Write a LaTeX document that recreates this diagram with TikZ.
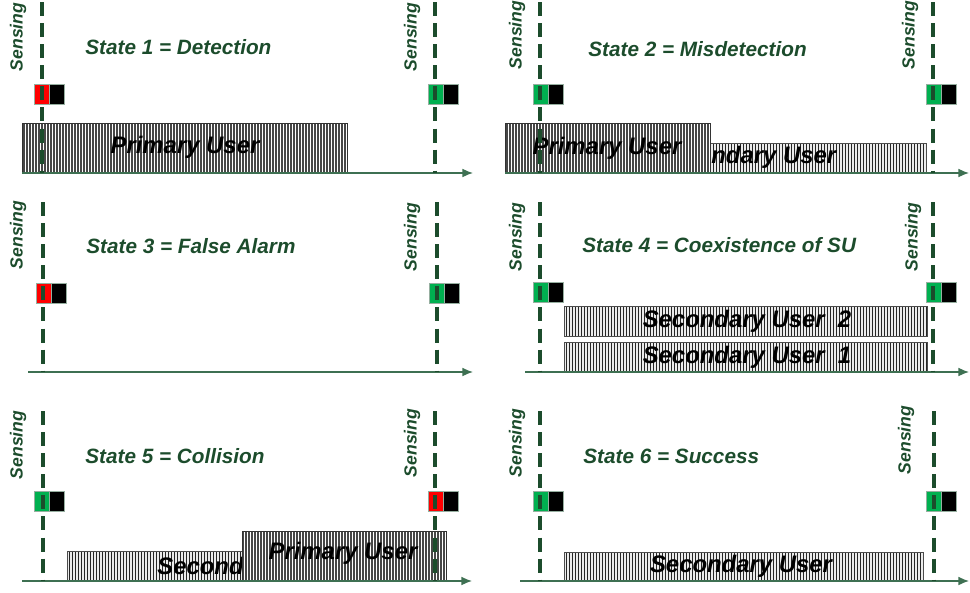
\documentclass[tikz,border=0pt]{standalone}
\usepackage{fontspec}
\setmainfont{Liberation Sans}
\usetikzlibrary{arrows.meta,positioning,patterns.meta}
\definecolor{sgreen}{RGB}{28,76,44}
\definecolor{axgreen}{RGB}{62,112,82}
\definecolor{okgreen}{RGB}{0,176,80}
\definecolor{badred}{RGB}{255,0,0}
\definecolor{flagedge}{RGB}{150,175,160}

\begin{document}
\begin{tikzpicture}[x=0.02cm,y=-0.02cm,
		      sense/.style={sgreen,line width=2.1pt,dash pattern=on 8pt off 4pt},
		      timeaxis/.style={axgreen,line width=0.8pt,-{Latex[length=6pt,width=5pt]}},
		      sname/.style={rotate=90,font=\fontsize{10}{12}\selectfont\bfseries\itshape,text=sgreen,inner sep=0pt},
		      stitle/.style={anchor=west,font=\fontsize{11.8}{14}\selectfont\bfseries\itshape,text=sgreen,inner sep=0pt},
		      flag/.style={draw=flagedge,line width=0.5pt,minimum width=0.3cm,minimum height=0.4cm,inner sep=0pt},
		      puser/.style={draw=black!80,line width=0.4pt,preaction={fill=white},pattern color=black!72,pattern={Lines[angle=90,distance=0.06cm,line width=0.95pt]}},
		      suser/.style={draw=black!70,line width=0.4pt,preaction={fill=gray!15},pattern color=black!85,pattern={Lines[angle=90,distance=0.06cm,line width=0.5pt]}},
		      bar/.style={font=\fontsize{13.6}{16}\selectfont\bfseries\itshape,inner sep=0pt}
		    ]
    \useasboundingbox (0,0) rectangle (970,592);

    % occupancy bars (drawn first, the sensing lines go over them)
    \draw[puser] (22,123) rectangle (347,173);
    \node[bar] (pu1) at (185,147) {Primary User};

    % the primary user hides the head of the secondary label
    \draw[suser] (710,143) rectangle (926,173);
    \node[bar,anchor=west] (su2) at (711,157) {ndary User};
    \draw[puser] (505,123) rectangle (710,173);
    \node[bar] (pu2) at (607,148) {Primary User};

    \draw[suser] (564,306) rectangle (927,336);
    \node[bar] (su4b) at (747,321) {Secondary User\ \ 2};
    \draw[suser] (564,342) rectangle (927,372);
    \node[bar] (su4a) at (747,357) {Secondary User\ \ 1};

    \draw[suser] (67,551) rectangle (242,581);
    \node[bar,anchor=west] (su5) at (157,566) {Second};
    \draw[puser] (242,531) rectangle (446,581);
    \node[bar] (pu5) at (343,553) {Primary User};

    \draw[suser] (564,552) rectangle (923,581);
    \node[bar] (su6) at (741,566) {Secondary User};

    % time axes
    \draw[timeaxis] (22,173) -- (473,173);
    \draw[timeaxis] (505,173) -- (969,173);
    \draw[timeaxis] (28,372) -- (473,372);
    \draw[timeaxis] (525,372) -- (969,372);
    \draw[timeaxis] (22,581) -- (472,581);
    \draw[timeaxis] (520,581) -- (969,581);

    % titles
    \node[stitle] (t1) at (85,47) {State 1 = Detection};
    \node[stitle] (t2) at (588,49) {State 2 = Misdetection};
    \node[stitle] (t3) at (86,246) {State 3 = False Alarm};
    \node[stitle] (t4) at (582,245) {State 4 = Coexistence of SU};
    \node[stitle] (t5) at (85,456) {State 5 = Collision};
    \node[stitle] (t6) at (583,456) {State 6 = Success};

    % sensing labels
    \node[sname] (n1a) at (18,37) {Sensing};
    \node[sname] (n1b) at (412,37) {Sensing};
    \node[sname] (n2a) at (517,35) {Sensing};
    \node[sname] (n2b) at (910,35) {Sensing};
    \node[sname] (n3a) at (18,235) {Sensing};
    \node[sname] (n3b) at (412,237) {Sensing};
    \node[sname] (n4a) at (517,237) {Sensing};
    \node[sname] (n4b) at (913,237) {Sensing};
    \node[sname] (n5a) at (18,445) {Sensing};
    \node[sname] (n5b) at (412,443) {Sensing};
    \node[sname] (n6a) at (517,443) {Sensing};
    \node[sname] (n6b) at (906,440) {Sensing};

    % sensing outcome flags
    \node[flag,fill=badred] (f1a) at (41.5,94) {};
    \node[flag,fill=okgreen] (f1b) at (435.5,94) {};
    \node[flag,fill=okgreen] (f2a) at (540.5,94) {};
    \node[flag,fill=okgreen] (f2b) at (933.5,94) {};
    \node[flag,fill=badred] (f3a) at (43.5,293) {};
    \node[flag,fill=okgreen] (f3b) at (436.5,293) {};
    \node[flag,fill=okgreen] (f4a) at (540.5,292.5) {};
    \node[flag,fill=okgreen] (f4b) at (933.5,292.5) {};
    \node[flag,fill=okgreen] (f5a) at (41.5,501.5) {};
    \node[flag,fill=badred] (f5b) at (435.5,501.5) {};
    \node[flag,fill=okgreen] (f6a) at (540.5,501.5) {};
    \node[flag,fill=okgreen] (f6b) at (933.5,501.5) {};
    \node[flag,fill=black,right=0pt of f1a] (k1a) {};
    \node[flag,fill=black,right=0pt of f1b] (k1b) {};
    \node[flag,fill=black,right=0pt of f2a] (k2a) {};
    \node[flag,fill=black,right=0pt of f2b] (k2b) {};
    \node[flag,fill=black,right=0pt of f3a] (k3a) {};
    \node[flag,fill=black,right=0pt of f3b] (k3b) {};
    \node[flag,fill=black,right=0pt of f4a] (k4a) {};
    \node[flag,fill=black,right=0pt of f4b] (k4b) {};
    \node[flag,fill=black,right=0pt of f5a] (k5a) {};
    \node[flag,fill=black,right=0pt of f5b] (k5b) {};
    \node[flag,fill=black,right=0pt of f6a] (k6a) {};
    \node[flag,fill=black,right=0pt of f6b] (k6b) {};

    % sensing instants
    \draw[sense] (42,2) -- (42,173);
    \draw[sense] (435,2) -- (435,173);
    \draw[sense] (540,2) -- (540,173);
    \draw[sense] (933,2) -- (933,173);
    \draw[sense] (43,202) -- (43,372);
    \draw[sense] (437,202) -- (437,372);
    \draw[sense] (540,202) -- (540,372);
    \draw[sense] (933,202) -- (933,372);
    \draw[sense] (43,411) -- (43,580);
    \draw[sense] (435,411) -- (435,580);
    \draw[sense] (540,411) -- (540,580);
    \draw[sense] (934,411) -- (934,580);

  \end{tikzpicture}
\end{document}
